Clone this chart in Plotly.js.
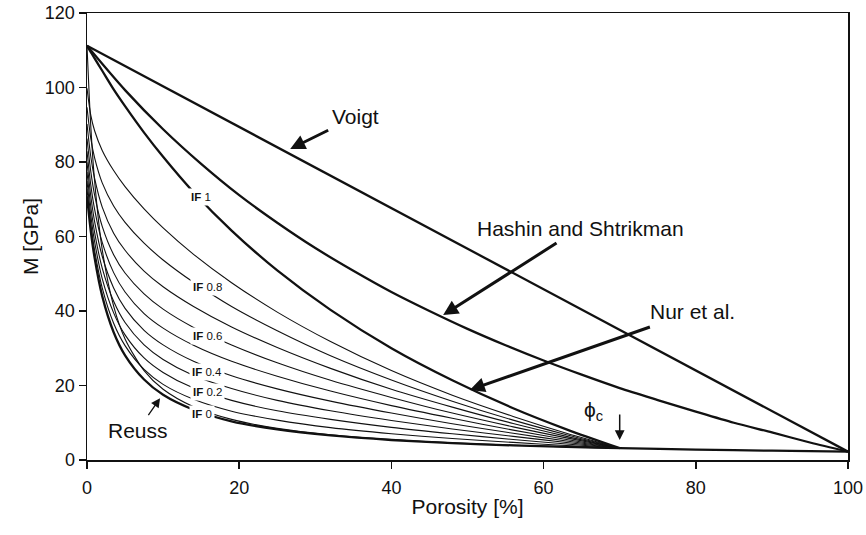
<!DOCTYPE html>
<html>
<head>
<meta charset="utf-8">
<script src="https://cdn.plot.ly/plotly-3.0.1.min.js"></script>
<style>html,body{margin:0;padding:0;background:#fff;}#chart{width:866px;height:535px;}</style>
</head>
<body>
<div id="chart"></div>
<script>
// Porosity grid (%) for the isoframe (IF) curves
const phiIF = [0, 0.5, 1, 2, 3.5, 5, 7.5, 10, 14, 19, 25, 32, 40, 48, 56, 63, 70];

// Isoframe curves, M [GPa]
const if1  = [111.2, 109.5, 107.8, 104.5, 99.5, 95.0, 87.9, 81.4, 71.9, 61.6, 50.9, 40.3, 30.0, 21.4, 13.9, 8.24, 3.17];
const if09 = [99.8, 92.5, 88.4, 83.1, 77.7, 73.4, 67.4, 62.3, 55.2, 47.6, 39.7, 31.8, 24.0, 17.4, 11.7, 7.19, 3.17];
const if08 = [94.7, 86.3, 81.1, 74.4, 68.2, 63.8, 58.2, 53.7, 47.7, 41.2, 34.7, 28.0, 21.5, 15.8, 10.7, 6.77, 3.17];
const if07 = [90.2, 81.4, 75.6, 67.9, 60.9, 56.3, 50.7, 46.5, 41.2, 35.7, 30.2, 24.6, 19.0, 14.2, 9.80, 6.35, 3.17];
const if06 = [86.3, 77.4, 71.1, 62.7, 55.1, 50.2, 44.6, 40.5, 35.6, 30.9, 26.1, 21.4, 16.8, 12.6, 8.90, 5.93, 3.17];
const if05 = [82.9, 73.8, 67.3, 58.4, 50.3, 45.1, 39.3, 35.4, 30.8, 26.5, 22.5, 18.5, 14.6, 11.2, 8.01, 5.52, 3.17];
const if04 = [79.9, 70.8, 64.0, 54.7, 46.2, 40.7, 34.8, 30.9, 26.5, 22.6, 19.1, 15.8, 12.6, 9.72, 7.17, 5.11, 3.17];
const if03 = [77.3, 68.0, 61.1, 51.5, 42.6, 36.9, 30.9, 27.0, 22.7, 19.2, 16.0, 13.2, 10.6, 8.34, 6.33, 4.71, 3.17];
const if02 = [74.9, 65.6, 58.6, 48.7, 39.5, 33.6, 27.4, 23.5, 19.3, 16.0, 13.2, 10.9, 8.77, 7.05, 5.51, 4.31, 3.17];
const if01 = [72.8, 63.4, 56.3, 46.2, 36.7, 30.7, 24.3, 20.3, 16.3, 13.1, 10.7, 8.68, 7.05, 5.77, 4.72, 3.90, 3.17];
const if00 = [111.2, 89.5, 74.9, 56.5, 41.3, 32.5, 24.0, 19.0, 14.3, 10.9, 8.49, 6.74, 5.46, 4.59, 3.96, 3.53, 3.19];

// Reuss bound
const phiReuss = [0, 0.5, 1, 2, 3.5, 5, 7.5, 10, 14, 19, 25, 32, 40, 48, 56, 63, 70, 80, 90, 100];
const reuss = [70.8, 61.4, 54.3, 44.0, 34.3, 28.1, 21.6, 17.5, 13.5, 10.4, 8.22, 6.59, 5.37, 4.53, 3.92, 3.51, 3.17, 2.79, 2.49, 2.25];

// Hashin-Shtrikman upper bound
const phiHS = [0, 5, 10, 15, 20, 25, 30, 35, 40, 45, 50, 55, 60, 65, 70, 75, 80, 85, 90, 95, 100];
const hs = [111.2, 99.3, 88.8, 79.5, 71.1, 63.7, 56.9, 50.8, 45.1, 40.0, 35.2, 30.8, 26.7, 22.9, 19.3, 16.1, 13.0, 10.0, 7.4, 4.7, 2.25];

// Voigt bound
const phiVoigt = [0, 100];
const voigt = [111.2, 2.25];

// Axis ticks
const xTicks = [0, 20, 40, 60, 80, 100];
const yTicks = [0, 20, 40, 60, 80, 100, 120];

const ink = '#111';
const FONT = 'Liberation Sans, Arial, Helvetica, sans-serif';

function curve(x, y, w) {
  return {x: x, y: y, type: 'scatter', mode: 'lines',
          line: {color: ink, width: w, shape: 'spline', smoothing: 0.8},
          hoverinfo: 'skip'};
}

const thin = 1.1, thick = 2.3;
const data = [
  curve(phiIF, if00, thin),
  curve(phiIF, if01, thin),
  curve(phiIF, if02, thin),
  curve(phiIF, if03, thin),
  curve(phiIF, if04, thin),
  curve(phiIF, if05, thin),
  curve(phiIF, if06, thin),
  curve(phiIF, if07, thin),
  curve(phiIF, if08, thin),
  curve(phiIF, if09, thin),
  curve(phiIF, if1, thick),
  curve(phiReuss, reuss, thick),
  curve(phiHS, hs, thick),
  {x: phiVoigt, y: voigt, type: 'scatter', mode: 'lines', line: {color: ink, width: thick}, hoverinfo: 'skip'}
];

function label(x, y, t) {
  return {x: x, y: y, xref: 'x', yref: 'y', text: t, showarrow: false,
          font: {family: FONT, size: 11.5, color: ink},
          bgcolor: '#ffffff', borderpad: 2, xanchor: 'center', yanchor: 'middle'};
}
function txt(x, y, t, s) {
  return {x: x, y: y, xref: 'x', yref: 'y', text: t, showarrow: false,
          font: {family: FONT, size: s || 21, color: ink}, xanchor: 'center', yanchor: 'middle'};
}
// text placed at (ax, ay) pixels from the arrow head (x, y)
function callout(x, y, ax, ay, t, w, s) {
  return {x: x, y: y, xref: 'x', yref: 'y', ax: ax, ay: ay, text: t, showarrow: true,
          font: {family: FONT, size: 21, color: ink}, borderpad: 3,
          arrowhead: 2, arrowsize: s, arrowwidth: w, arrowcolor: ink, standoff: 0, startstandoff: 0};
}

const annotations = [
  label(15.0, 70.6, '<b>IF</b> 1'),
  label(15.8, 46.4, '<b>IF</b> 0.8'),
  label(15.8, 33.3, '<b>IF</b> 0.6'),
  label(15.8, 23.6, '<b>IF</b> 0.4'),
  label(15.8, 18.3, '<b>IF</b> 0.2'),
  label(15.1, 12.3, '<b>IF</b> 0'),
  callout(26.7, 83.5, 65, -32, 'Voigt', 3, 1),
  callout(46.8, 38.9, 137, -87, 'Hashin and Shtrikman', 3, 1),
  callout(50.3, 18.8, 223, -78, 'Nur et al.', 3, 1),
  callout(9.6, 16.6, -22, 32, 'Reuss', 1.3, 1.4),
  txt(66.6, 13.2, 'ϕ<sub>c</sub>'),
  {x: 70.0, y: 5.4, xref: 'x', yref: 'y', ax: 0, ay: -27, text: '', showarrow: true,
   arrowhead: 2, arrowsize: 1.3, arrowwidth: 1.5, arrowcolor: ink, standoff: 0, startstandoff: 0}
];

const axisCommon = {
  showline: true, linecolor: ink, linewidth: 1.5, mirror: true,
  ticks: 'outside', ticklen: 7, tickwidth: 1.5, tickcolor: ink,
  showgrid: false, zeroline: false,
  tickfont: {family: FONT, size: 18, color: ink}
};

const layout = {
  width: 866, height: 535,
  margin: {l: 87, r: 18, t: 13, b: 75},
  paper_bgcolor: '#ffffff', plot_bgcolor: '#ffffff',
  showlegend: false,
  font: {family: FONT, color: ink},
  xaxis: Object.assign({}, axisCommon, {
    range: [0, 100], tickvals: xTicks, ticktext: xTicks.map(String), ticklabelstandoff: 4,
    title: {text: 'Porosity [%]', font: {family: FONT, size: 21, color: ink}, standoff: 2}
  }),
  yaxis: Object.assign({}, axisCommon, {
    range: [0, 120], tickvals: yTicks, ticktext: yTicks.map(String),
    title: {text: 'M [GPa]', font: {family: FONT, size: 21, color: ink}, standoff: 0}
  }),
  annotations: annotations
};

Plotly.newPlot('chart', data, layout, {staticPlot: true, displayModeBar: false});
</script>
</body>
</html>
